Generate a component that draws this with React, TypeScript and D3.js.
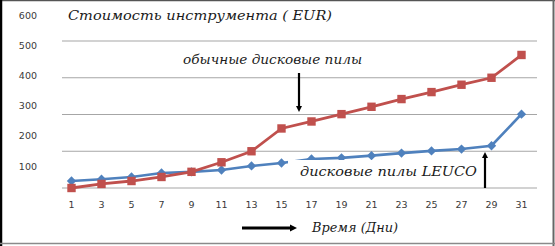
import React from "react";
import * as d3 from "d3";

const days = [1, 3, 5, 7, 9, 11, 13, 15, 17, 19, 21, 23, 25, 27, 29, 31];
const regularSaws = [0, 11, 19, 30, 44, 70, 100, 162, 181, 201, 221, 242, 261, 281, 300, 362];
const leucoSaws = [19, 24, 30, 41, 44, 49, 60, 68, 79, 82, 88, 95, 101, 106, 115, 201];
const gridValues = [0, 100, 200, 300, 400];
const tickLabels = [100, 200, 300, 400, 500, 600];
const title = "Стоимость инструмента ( EUR)";
const regularLabel = "обычные дисковые пилы";
const leucoLabel = "дисковые пилы  LEUCO";
const xTitle = "Время (Дни)";

const W = 555;
const H = 246;

export default function App() {
  const x = d3.scaleLinear().domain([1, 31]).range([71.5, 521.5]);
  const y = d3.scaleLinear().domain([0, 400]).range([188, 41]);
  const labelY = d3.scaleLinear().domain([100, 600]).range([166, 15]);

  const line = d3
    .line<number>()
    .x((_, i) => x(days[i]))
    .y((d) => y(d));

  const red = "#C0504D";
  const blue = "#4F81BD";
  const serif = "'DejaVu Serif', 'Liberation Serif', serif";
  const sans = "'DejaVu Sans', Verdana, sans-serif";

  return (
    <svg
      width={W}
      height={H}
      style={{ position: "fixed", top: 0, left: 0, background: "#fff" }}
    >
      <rect x={0} y={0} width={W} height={H} fill="#fff" />
      {/* gridlines */}
      {gridValues.map((v) => (
        <line
          key={v}
          x1={62}
          x2={537}
          y1={y(v)}
          y2={y(v)}
          stroke="#a6a6a6"
          strokeWidth={1.2}
        />
      ))}
      {/* y tick labels */}
      {tickLabels.map((t) => (
        <text
          key={t}
          x={37}
          y={labelY(t)}
          textAnchor="end"
          dominantBaseline="central"
          fontFamily={sans}
          fontSize={9.5}
          fill="#3a3a3a"
        >
          {t}
        </text>
      ))}
      {/* x tick labels */}
      {days.map((d) => (
        <text
          key={d}
          x={x(d)}
          y={204}
          textAnchor="middle"
          dominantBaseline="central"
          fontFamily={sans}
          fontSize={9.5}
          fill="#3a3a3a"
        >
          {d}
        </text>
      ))}
      {/* series lines */}
      <path d={line(leucoSaws) || ""} fill="none" stroke={blue} strokeWidth={2.6} />
      {leucoSaws.map((v, i) => (
        <rect
          key={"b" + i}
          x={x(days[i]) - 3.3}
          y={y(v) - 3.3}
          width={6.6}
          height={6.6}
          fill={blue}
          transform={`rotate(45 ${x(days[i])} ${y(v)})`}
        />
      ))}
      <path d={line(regularSaws) || ""} fill="none" stroke={red} strokeWidth={2.8} />
      {regularSaws.map((v, i) => (
        <rect
          key={"r" + i}
          x={x(days[i]) - 4.2}
          y={y(v) - 4.2}
          width={8.4}
          height={8.4}
          fill={red}
        />
      ))}
      {/* label box for LEUCO covering part of line */}
      <rect x={288} y={160} width={185} height={25} fill="#fff" />
      <text
        x={300}
        y={172}
        dominantBaseline="central"
        fontFamily={serif}
        fontStyle="italic"
        fontSize={12}
        fill="#1a1a1a"
        textLength={177}
        lengthAdjust="spacingAndGlyphs"
      >
        {leucoLabel}
      </text>
      {/* title */}
      <text
        x={68}
        y={15}
        dominantBaseline="central"
        fontFamily={serif}
        fontStyle="italic"
        fontSize={13.5}
        fill="#1a1a1a"
        textLength={264}
        lengthAdjust="spacingAndGlyphs"
      >
        {title}
      </text>
      <text
        x={183}
        y={60}
        dominantBaseline="central"
        fontFamily={serif}
        fontStyle="italic"
        fontSize={12}
        fill="#1a1a1a"
        textLength={179}
        lengthAdjust="spacingAndGlyphs"
      >
        {regularLabel}
      </text>
      {/* arrow down to regular */}
      <line x1={299} x2={299} y1={73} y2={108} stroke="#000" strokeWidth={2.2} />
      <polygon points="296,106 302,106 299,112" fill="#000" />
      {/* arrow up to LEUCO */}
      <line x1={485} x2={485} y1={157} y2={188} stroke="#000" strokeWidth={2.2} />
      <polygon points="482,158 488,158 485,152" fill="#000" />
      {/* x axis arrow */}
      <line x1={242} x2={292} y1={228} y2={228} stroke="#000" strokeWidth={3} />
      <polygon points="290,224.5 290,231.5 297,228" fill="#000" />
      <text
        x={312}
        y={228}
        dominantBaseline="central"
        fontFamily={serif}
        fontStyle="italic"
        fontSize={12}
        fill="#1a1a1a"
        textLength={86}
        lengthAdjust="spacingAndGlyphs"
      >
        {xTitle}
      </text>
      {/* frame */}
      <line x1={0} x2={W} y1={0.5} y2={0.5} stroke="#555" strokeWidth={1.5} />
      <line x1={1} x2={1} y1={0} y2={H} stroke="#000" strokeWidth={2.5} />
      <line x1={553.5} x2={553.5} y1={0} y2={H} stroke="#666" strokeWidth={2} />
      <line x1={0} x2={W} y1={243.5} y2={243.5} stroke="#8a8a8a" strokeWidth={1.5} />
    </svg>
  );
}
